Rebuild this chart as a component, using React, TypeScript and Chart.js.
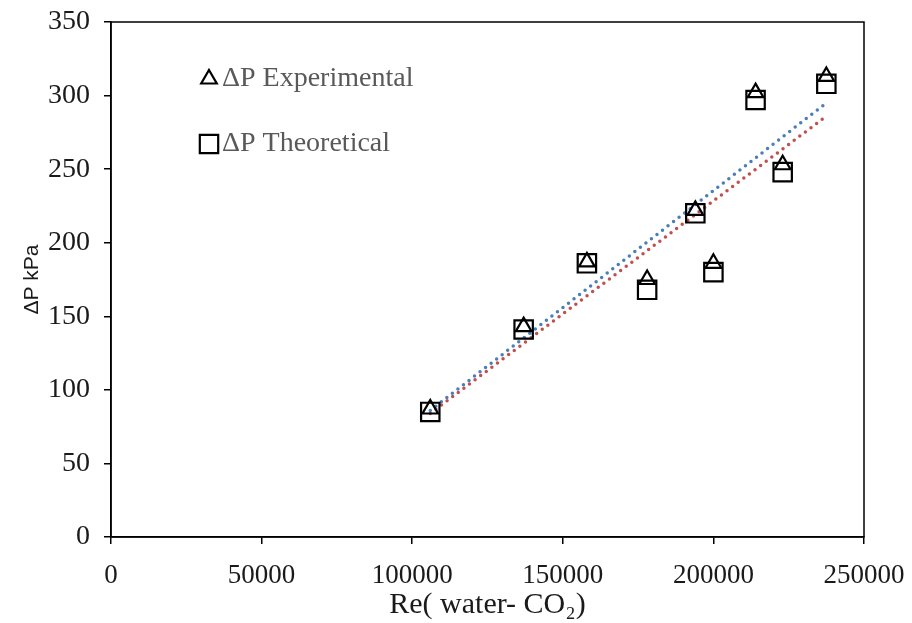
import React, { useEffect, useRef } from "react";
import { Chart, registerables } from "chart.js";

Chart.register(...registerables);

const reynolds = [106000, 137000, 158000, 178000, 194000, 200000, 214000, 223000, 237500];
const dpExperimental = [87, 143, 187, 175, 222, 186, 302, 253, 313];
const dpTheoretical = [85, 141, 186, 168, 220, 180, 297, 248, 308];
const trendX = [106000, 237500];
const trendExperimental = [86, 295];
const trendTheoretical = [84, 286];
const xTicks = [0, 50000, 100000, 150000, 200000, 250000];
const yTicks = [0, 50, 100, 150, 200, 250, 300, 350];

const SERIF = "'Liberation Serif', 'Times New Roman', serif";
const SANS = "'Liberation Sans', Arial, sans-serif";

const boxPlugin = {
  id: "boxPlugin",
  afterDatasetsDraw(chart: any) {
    const { ctx, chartArea } = chart;
    ctx.save();
    ctx.strokeStyle = "#000";
    ctx.lineWidth = 1.5;
    ctx.strokeRect(chartArea.left, chartArea.top, chartArea.right - chartArea.left, chartArea.bottom - chartArea.top);
    ctx.restore();
  },
};

function drawMarker(ctx: CanvasRenderingContext2D, style: string, r: number, x: number, y: number) {
  ctx.beginPath();
  if (style === "triangle") {
    ctx.moveTo(x, y - r);
    ctx.lineTo(x + r * Math.sin(Math.PI / 3), y + r * 0.5);
    ctx.lineTo(x - r * Math.sin(Math.PI / 3), y + r * 0.5);
    ctx.closePath();
  } else {
    const s = r * Math.SQRT1_2;
    ctx.rect(x - s, y - s, 2 * s, 2 * s);
  }
  ctx.stroke();
}

const legendPlugin = {
  id: "customLegend",
  afterDraw(chart: any) {
    const { ctx } = chart;
    const items = [
      { style: "triangle", label: chart.data.datasets[0].label, y: 79, r: 9 },
      { style: "rect", label: chart.data.datasets[1].label, y: 144, r: 13 },
    ];
    ctx.save();
    items.forEach((it) => {
      ctx.strokeStyle = "#000";
      ctx.lineWidth = 2.2;
      drawMarker(ctx, it.style, it.r, 209, it.y);
      ctx.fillStyle = "#595959";
      ctx.font = `28px ${SERIF}`;
      ctx.textBaseline = "middle";
      ctx.textAlign = "left";
      ctx.fillText(it.label, 222, it.y);
    });
    ctx.restore();
  },
};

export default function App() {
  const ref = useRef<HTMLCanvasElement | null>(null);
  useEffect(() => {
    if (!ref.current) return;
    const toPts = (xs: number[], ys: number[]) => xs.map((x, i) => ({ x, y: ys[i] }));
    const chart = new Chart(ref.current, {
      type: "scatter",
      data: {
        datasets: [
          {
            label: "ΔP Experimental",
            data: toPts(reynolds, dpExperimental),
            pointStyle: "triangle",
            pointRadius: 9,
            pointBorderWidth: 2.2,
            borderColor: "#000",
            backgroundColor: "rgba(0,0,0,0)",
            order: 1,
          },
          {
            label: "ΔP Theoretical",
            data: toPts(reynolds, dpTheoretical),
            pointStyle: "rect",
            pointRadius: 13,
            pointBorderWidth: 2.2,
            borderColor: "#000",
            backgroundColor: "rgba(0,0,0,0)",
            order: 2,
          },
          {
            label: "trend exp",
            type: "line",
            data: toPts(trendX, trendExperimental),
            borderColor: "#4a7ebb",
            borderWidth: 3.5,
            borderDash: [0, 7],
            borderCapStyle: "round",
            pointRadius: 0,
            order: 3,
          } as any,
          {
            label: "trend theo",
            type: "line",
            data: toPts(trendX, trendTheoretical),
            borderColor: "#c0504d",
            borderWidth: 3.5,
            borderDash: [0, 7],
            borderCapStyle: "round",
            pointRadius: 0,
            order: 4,
          } as any,
        ],
      },
      options: {
        animation: false,
        responsive: false,
        layout: { padding: { top: 22, right: 48, left: 0, bottom: 0 } },
        plugins: { legend: { display: false }, tooltip: { enabled: false } },
        scales: {
          x: {
            type: "linear",
            min: 0,
            max: 250000,
            afterBuildTicks: (s: any) => {
              s.ticks = xTicks.map((v) => ({ value: v }));
            },
            afterFit: (s: any) => {
              s.height = 86;
              s.paddingLeft = 0;
              s.paddingRight = 0;
            },
            grid: { drawOnChartArea: false, drawTicks: true, tickLength: 7, color: "#000", lineWidth: 1.5 },
            border: { display: true, color: "#000", width: 1.5 },
            ticks: { color: "#1a1a1a", font: { family: SERIF, size: 27 }, padding: 16, maxRotation: 0, callback: (v: any) => String(v) },
            title: { display: true, text: "Re( water- CO₂)", color: "#1a1a1a", font: { family: SERIF, size: 30 }, padding: { top: 0, bottom: 0 } },
          },
          y: {
            type: "linear",
            min: 0,
            max: 350,
            afterBuildTicks: (s: any) => {
              s.ticks = yTicks.map((v) => ({ value: v }));
            },
            afterFit: (s: any) => {
              s.width = 111;
              s.paddingTop = 0;
              s.paddingBottom = 0;
            },
            grid: { drawOnChartArea: false, drawTicks: true, tickLength: 7, color: "#000", lineWidth: 1.5 },
            border: { display: true, color: "#000", width: 1.5 },
            ticks: { color: "#1a1a1a", font: { family: SERIF, size: 28 }, padding: 14 },
            title: { display: true, text: "ΔP kPa", color: "#1a1a1a", font: { family: SANS, size: 21 }, padding: { top: 20, bottom: 0 } },
          },
        },
      },
      plugins: [boxPlugin, legendPlugin],
    } as any);
    return () => chart.destroy();
  }, []);
  return (
    <div style={{ position: "absolute", left: 0, top: 0, width: 912, height: 623, background: "#fff" }}>
      <canvas ref={ref} width={912} height={623} style={{ width: 912, height: 623 }} />
    </div>
  );
}
